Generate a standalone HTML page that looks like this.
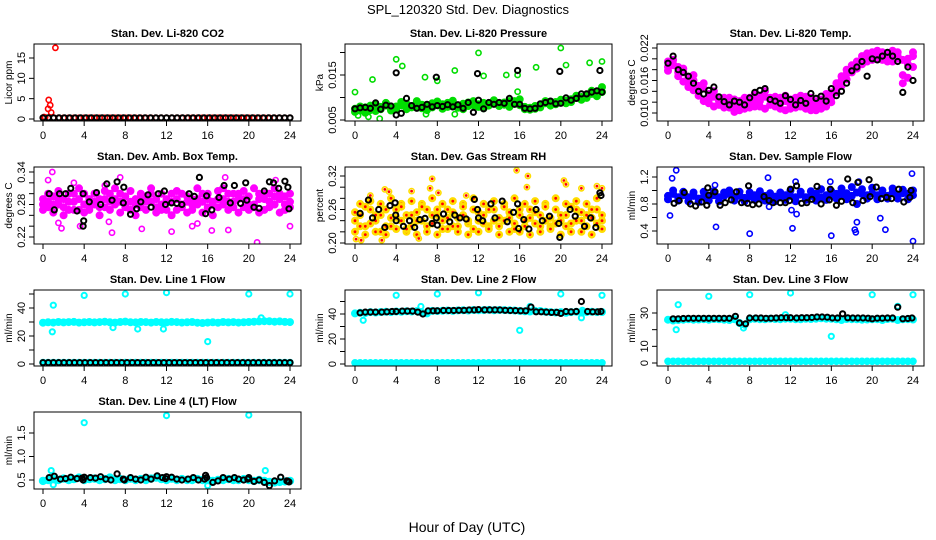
<!DOCTYPE html>
<html><head><meta charset="utf-8"><style>
body{margin:0;background:#fff;width:936px;height:540px;overflow:hidden}
svg{display:block;font-family:"Liberation Sans",Arial,sans-serif}
</style></head><body>
<svg id="chart" width="936" height="540" viewBox="0 0 936 540">
<text x="468" y="14" text-anchor="middle" font-size="13">SPL_120320  Std. Dev. Diagnostics</text>
<text x="467" y="532" text-anchor="middle" font-size="14">Hour of Day (UTC)</text>
</svg>
<script>
// ---- data (each array spread evenly over 0..24 h) ----
const xTicks=[0,4,8,12,16,20,24];
// P1 CO2
const co2Red=[0.3,0.3,0.3,0.3,0.3,0.3,0.3,0.3,0.3,0.3,0.3,0.3,0.3,0.3,0.3,0.3,0.3,0.3,0.3,0.3,0.3,0.3,0.3,0.3,0.3,0.3,0.3,0.3,0.3,0.3,0.3,0.3,0.3,0.3,0.3,0.3,0.3,0.3,0.3,0.3,0.3,0.3,0.3,0.3,0.3,0.3,0.3,0.3,0.3];
const co2OutHours=[0.1,0.2,0.5,0.55,0.7,0.8,1.2];
const co2OutVals=[0.5,0.4,2.5,4.7,3.4,1.6,17.5];
const co2Black=[0.3,0.3,0.3,0.3,0.3,0.3,0.3,0.3,0.3,0.3,0.3,0.3,0.3,0.3,0.3,0.3,0.3,0.3,0.3,0.3,0.3,0.3,0.3,0.3,0.3,0.3,0.3,0.3,0.3,0.3,0.3,0.3,0.3,0.3,0.3,0.3,0.3,0.3,0.3,0.3,0.3,0.3,0.3,0.3,0.3,0.3,0.3];
// P2 Pressure
const presGreenA=[0.0075,0.008,0.0078,0.0072,0.0085,0.0079,0.0082,0.0076,0.008,0.0083,0.0086,0.0081,0.0079,0.0084,0.0082,0.0087,0.0083,0.0085,0.0088,0.0084,0.0081,0.0086,0.0089,0.0083,0.0085,0.0088,0.0086,0.009,0.0087,0.0089,0.0092,0.0086,0.0083,0.0079,0.0077,0.0081,0.0084,0.0087,0.0088,0.009,0.0089,0.0093,0.0096,0.0099,0.0101,0.0104,0.0108,0.011,0.0112];
const presGreenB=[0.0068,0.0071,0.0066,0.0082,0.007,0.0074,0.0088,0.0071,0.0075,0.009,0.0074,0.0078,0.0092,0.0076,0.0072,0.0078,0.0091,0.0075,0.0079,0.0093,0.0077,0.0074,0.0081,0.0092,0.0079,0.0076,0.0082,0.0094,0.0081,0.0084,0.0079,0.0092,0.0096,0.0074,0.0073,0.0075,0.0078,0.0092,0.0082,0.0085,0.0095,0.0087,0.009,0.0104,0.0095,0.0099,0.0115,0.0103,0.0123];
const presOutHours=[0,1.7,4,4.6,6.8,8,9.7,12,12.5,14.7,15.8,17.6,20,20.5,22.8,24,0.3,1.3,2.4,6.9,9.7,15.8];
const presOutVals=[0.0112,0.014,0.0185,0.017,0.0145,0.0137,0.016,0.0199,0.0148,0.015,0.015,0.0167,0.021,0.0172,0.0177,0.018,0.006,0.0057,0.0053,0.0063,0.0063,0.0113];
const presBlack=[0.0075,0.0077,0.0078,0.0076,0.0088,0.0074,0.0083,0.0081,0.0061,0.0065,0.0098,0.0082,0.0076,0.0078,0.0085,0.0079,0.0082,0.008,0.0084,0.0079,0.0084,0.0076,0.0089,0.0067,0.0094,0.0075,0.0089,0.0085,0.0089,0.0087,0.0098,0.0085,0.0085,0.0076,0.0075,0.0076,0.0086,0.0089,0.0092,0.0086,0.0087,0.0099,0.0094,0.0098,0.0108,0.0108,0.0112,0.0115,0.0112];
const presBlackOutHours=[4,7.9,11.9,15.8,19.9,23.8];
const presBlackOutVals=[0.0155,0.0145,0.0153,0.016,0.0158,0.016];
// P3 Temp
const tempMagA=[0.0195,0.019,0.0185,0.0175,0.0165,0.016,0.015,0.0145,0.0135,0.013,0.0125,0.0118,0.012,0.0112,0.0115,0.0118,0.012,0.0125,0.0122,0.013,0.0125,0.012,0.0118,0.0122,0.0115,0.0118,0.0122,0.012,0.0115,0.0112,0.0118,0.0125,0.0128,0.0145,0.016,0.0172,0.0182,0.019,0.0198,0.02,0.0205,0.0208,0.0205,0.0202,0.0208,0.0205,0.0198,0.019,0.0205];
const tempMagB=[0.0185,0.0198,0.0175,0.0182,0.0155,0.017,0.014,0.0155,0.0125,0.014,0.0115,0.0128,0.011,0.0125,0.0105,0.0128,0.011,0.0135,0.0112,0.014,0.0115,0.013,0.0108,0.0132,0.0108,0.0128,0.0112,0.013,0.0105,0.0122,0.0108,0.0135,0.012,0.0155,0.015,0.018,0.0175,0.0195,0.019,0.021,0.0198,0.0215,0.0198,0.021,0.0195,0.0212,0.017,0.02,0.0185];
const tempMagC=[0.0178,0.0188,0.0168,0.0158,0.0148,0.0142,0.0132,0.0122,0.0118,0.0112,0.0122,0.011,0.0128,0.0102,0.0122,0.0108,0.0128,0.0112,0.0132,0.0108,0.0128,0.0112,0.0128,0.0105,0.0125,0.011,0.0132,0.0108,0.0128,0.0105,0.0125,0.0112,0.0138,0.0138,0.0168,0.0162,0.0188,0.0182,0.0205,0.0195,0.0212,0.02,0.0212,0.0195,0.0215,0.02,0.0155,0.0165,0.0212];
const tempBlack=[0.0192,0.0205,0.018,0.0175,0.0168,0.0155,0.014,0.0135,0.0142,0.0148,0.013,0.0121,0.0115,0.0122,0.012,0.0115,0.0128,0.0138,0.0142,0.0145,0.0125,0.0122,0.0118,0.0132,0.0125,0.0115,0.0123,0.0118,0.0136,0.0127,0.0131,0.0122,0.0145,0.0132,0.014,0.0155,0.0178,0.0185,0.0195,0.0168,0.02,0.0198,0.0205,0.0212,0.0205,0.0195,0.0138,0.0185,0.016];
// P4 Amb box temp
const ambMagA=[0.29,0.285,0.28,0.29,0.275,0.285,0.3,0.27,0.28,0.29,0.285,0.275,0.29,0.3,0.28,0.285,0.295,0.27,0.28,0.29,0.285,0.3,0.275,0.28,0.29,0.285,0.27,0.28,0.295,0.29,0.28,0.3,0.275,0.285,0.29,0.28,0.3,0.285,0.29,0.275,0.295,0.28,0.29,0.3,0.285,0.28,0.29,0.295,0.285];
const ambMagB=[0.27,0.3,0.265,0.305,0.26,0.3,0.27,0.31,0.265,0.275,0.3,0.26,0.305,0.27,0.31,0.265,0.28,0.305,0.26,0.3,0.27,0.31,0.265,0.3,0.27,0.26,0.305,0.3,0.265,0.27,0.31,0.265,0.3,0.26,0.305,0.31,0.27,0.3,0.265,0.305,0.27,0.31,0.265,0.27,0.3,0.31,0.265,0.27,0.3];
const ambMagC=[0.28,0.275,0.295,0.28,0.29,0.27,0.285,0.29,0.3,0.27,0.28,0.29,0.275,0.285,0.29,0.3,0.275,0.285,0.29,0.275,0.295,0.285,0.29,0.27,0.285,0.3,0.29,0.275,0.285,0.28,0.29,0.285,0.29,0.28,0.275,0.29,0.285,0.275,0.3,0.29,0.28,0.275,0.3,0.29,0.275,0.295,0.3,0.28,0.275];
const ambOutHours=[0.5,0.9,1.5,1.8,3,3.6,6,6.4,6.7,7.5,9.6,12.5,14.5,15,16.4,17.7,18,20.8,22.6,24];
const ambOutVals=[0.325,0.34,0.246,0.236,0.32,0.24,0.315,0.248,0.228,0.33,0.235,0.23,0.24,0.245,0.232,0.33,0.233,0.21,0.325,0.24];
const ambBlackHours=[0.6,1.1,1.6,2.2,2.7,3.3,3.9,3.9,3.95,4.5,5.2,5.6,6.2,6.7,7.2,7.8,7.85,8.5,9.1,9.5,10.2,10.5,11.2,11.8,11.9,12.5,13,13.5,14.2,14.7,15.2,15.8,15.9,16.4,17.1,17.6,18.2,18.6,19.2,19.7,19.8,20.5,21,21.5,22,22.4,22.9,23.5,23.8,23.9];
const ambBlackVals=[0.3,0.27,0.3,0.3,0.31,0.268,0.3,0.24,0.25,0.285,0.302,0.28,0.318,0.288,0.322,0.283,0.312,0.262,0.272,0.285,0.298,0.275,0.3,0.305,0.28,0.283,0.282,0.28,0.3,0.295,0.33,0.263,0.296,0.27,0.293,0.315,0.283,0.315,0.282,0.32,0.288,0.275,0.273,0.305,0.322,0.32,0.31,0.323,0.312,0.272];
// P5 Gas stream RH
const rhA=[0.24,0.25,0.23,0.26,0.24,0.25,0.23,0.245,0.26,0.24,0.25,0.23,0.255,0.24,0.26,0.235,0.25,0.24,0.26,0.23,0.245,0.25,0.235,0.26,0.24,0.25,0.23,0.26,0.245,0.24,0.255,0.235,0.25,0.24,0.26,0.235,0.25,0.24,0.23,0.26,0.24,0.25,0.235,0.26,0.24,0.25,0.245,0.26,0.24];
const rhB=[0.22,0.27,0.215,0.275,0.22,0.27,0.215,0.28,0.225,0.27,0.22,0.275,0.215,0.27,0.22,0.28,0.215,0.27,0.225,0.275,0.22,0.27,0.215,0.28,0.22,0.27,0.225,0.275,0.215,0.27,0.22,0.28,0.22,0.27,0.215,0.275,0.22,0.27,0.225,0.28,0.215,0.27,0.22,0.275,0.22,0.27,0.215,0.28,0.225];
const rhC=[0.255,0.23,0.265,0.235,0.25,0.22,0.26,0.23,0.245,0.265,0.225,0.25,0.24,0.265,0.23,0.25,0.26,0.225,0.245,0.255,0.23,0.265,0.24,0.225,0.255,0.235,0.26,0.24,0.23,0.265,0.245,0.225,0.26,0.23,0.245,0.255,0.23,0.265,0.245,0.235,0.25,0.23,0.265,0.24,0.255,0.23,0.26,0.235,0.25];
const rhOutHours=[0.1,0.6,1.5,2.6,3.3,5.5,6.2,7.3,7.5,10.8,15.7,16.8,16.7,20.3,20.5,22,23.5,24,2.9,8.1];
const rhOutVals=[0.207,0.205,0.285,0.205,0.292,0.293,0.208,0.298,0.315,0.285,0.33,0.32,0.3,0.312,0.305,0.298,0.302,0.298,0.296,0.29];
const rhBlackHours=[0.5,1.3,1.7,2.3,2.9,3.4,3.9,3.95,4.0,4.7,5.3,5.8,6.3,6.8,7.5,7.9,8.0,8.6,9.2,9.7,10.2,10.8,11.6,11.9,12.0,12.4,13.2,13.6,14.3,14.8,15.4,15.8,15.9,16.4,16.9,17.6,18.2,18.9,19.8,19.9,20.9,21.4,22.3,22.9,23.4,23.8,23.9];
const rhBlackVals=[0.253,0.277,0.245,0.26,0.228,0.267,0.272,0.25,0.24,0.23,0.24,0.228,0.242,0.244,0.235,0.245,0.232,0.252,0.238,0.25,0.245,0.243,0.278,0.26,0.245,0.24,0.27,0.245,0.275,0.238,0.255,0.27,0.226,0.242,0.225,0.26,0.24,0.248,0.235,0.21,0.26,0.248,0.23,0.245,0.228,0.29,0.285];
// P6 Sample flow
const sfA=[0.92,0.95,0.9,0.93,0.9,0.92,0.88,0.91,0.9,0.93,0.9,0.92,0.95,0.9,0.92,0.89,0.91,0.93,0.9,0.92,0.88,0.91,0.9,0.93,0.92,0.9,0.94,0.9,0.92,0.95,0.9,0.93,0.92,0.95,0.93,0.96,0.92,0.97,0.95,0.93,0.96,0.93,0.95,0.92,0.97,0.94,0.96,0.95,0.93];
const sfB=[0.87,1.0,0.85,0.98,0.84,0.97,0.83,0.98,0.85,0.99,0.84,0.97,1.0,0.85,0.98,0.84,0.97,0.86,0.99,0.85,0.96,0.84,0.97,0.86,1.0,0.84,0.98,0.86,0.99,0.85,1.02,0.86,0.99,0.88,1.03,0.87,1.05,0.8,1.02,0.88,1.04,0.87,1.0,0.88,1.03,0.88,1.01,0.87,1.0];
const sfOutHours=[0.2,0.4,0.8,4.6,4.7,7.9,8.0,9.8,9.9,12.2,12.5,12.6,15.9,16.0,18.3,18.4,18.5,18.7,20.8,21.3,23.9,24.0,12.1];
const sfOutVals=[0.63,1.18,1.3,1.08,0.46,1.07,0.36,1.19,0.76,0.44,1.13,0.65,1.13,0.33,0.42,0.38,0.53,1.13,0.59,0.42,1.25,0.25,0.71];
const sfBlackHours=[0.6,1.1,1.6,2.2,2.7,3.3,3.8,3.9,4.0,4.6,5.1,5.6,6.2,6.7,7.2,7.8,7.9,8.3,8.9,9.4,9.9,10.3,11.0,11.5,11.9,12.0,12.6,13.1,13.6,14.1,14.6,15.0,15.8,15.9,16.5,17.0,17.6,18.1,18.6,19.1,19.7,19.8,20.4,20.9,21.4,21.9,22.6,23.1,23.7,23.8];
const sfBlackVals=[0.81,0.85,0.97,0.8,0.77,0.83,0.78,1.04,0.93,0.98,0.78,0.82,0.86,0.98,0.82,0.81,1.07,0.79,0.8,0.91,0.85,0.82,0.82,0.82,0.85,1.02,1.07,0.81,0.82,0.87,1.06,0.8,0.86,1.02,0.78,0.84,1.17,0.82,1.12,0.85,1.16,0.91,1.05,0.88,0.9,0.88,1.02,0.83,0.9,1.0];
// P7 Line 1
const l1Cyan=[29.5,29.8,29.6,30,29.7,29.9,30.1,29.6,29.8,30,29.7,29.9,30.2,29.8,29.6,30,30.3,29.8,29.7,30,29.9,29.6,30,29.8,29.7,30.1,29.9,29.6,29.8,30,29.5,29.3,29.6,29.8,29.5,30,29.7,29.9,29.6,29.8,30,30.2,30.4,30.6,30.5,30.2,30.4,30.1,29.9];
const l1Low=[1,1,1,1,1,1,1,1,1,1,1,1,1,1,1,1,1,1,1,1,1,1,1,1,1,1,1,1,1,1,1,1,1,1,1,1,1,1,1,1,1,1,1,1,1,1,1,1,1];
const l1OutHours=[0.9,1.0,4,6.8,8,9.2,11.7,12,16,20,21.2,24];
const l1OutVals=[23,42,49,26,50,25,25,51,16,50,33,50];
const l1Black=[1,1,1,1,1,1,1,1,1,1,1,1,1,1,1,1,1,1,1,1,1,1,1,1,1,1,1,1,1,1,1,1,1,1,1,1,1,1,1,1,1,1,1,1,1,1,1,1];
// P8 Line 2
const l2Cyan=[40.5,41,40.8,41.5,41.2,41.6,41.8,41.5,42,41.8,42.2,42,42.3,41,40.5,42.5,42.4,42.6,42.8,42.5,42.9,43,42.8,43.2,43,43.1,43.3,43,43.2,43.1,43,42.8,42.5,42.2,42,42.5,42.4,41.8,41.5,41.2,41.5,41,41.5,41.8,41.2,41.5,41.8,41.5,41.6];
const l2Low=[1,1,1,1,1,1,1,1,1,1,1,1,1,1,1,1,1,1,1,1,1,1,1,1,1,1,1,1,1,1,1,1,1,1,1,1,1,1,1,1,1,1,1,1,1,1,1,1,1];
const l2OutHours=[0.8,4,6.4,8,12,16,17,20,22,22.1,24];
const l2OutVals=[35,55,46,56,57,27,46,56,37,43,55];
const l2BlackHours=[0.5,1.0,1.5,2.0,2.6,3.1,3.6,4.0,4.6,5.1,5.6,6.1,6.6,7.1,7.6,8.0,8.6,9.1,9.6,10.1,10.6,11.1,11.6,12.0,12.6,13.1,13.6,14.1,14.6,15.1,15.6,16.1,16.6,17.1,17.6,18.1,18.6,19.1,19.6,20.0,20.5,21.0,21.5,22.0,22.6,23.1,23.6,23.9];
const l2BlackVals=[41,41.5,41.5,41.5,41.5,41.8,42,42,42.3,42.3,42.3,41.5,40,42.5,42.6,42.6,42.8,42.8,42.8,43,43,43.2,43.2,43.5,43.3,43.3,43.3,43.2,43,42.8,42.7,42.6,42.6,45.5,41.8,41.8,41.5,41.3,41.3,40.5,42,41.7,42,50,42,41.8,41.8,42];
// P9 Line 3
const l3Cyan=[26,25.5,25.8,26,26.2,26,26.1,26.3,26,26.4,26.2,26,25.8,26.3,24,23,26.2,26.5,26.3,26.2,26.5,26.4,26.3,26.6,26.5,26.3,26.2,26.5,26.4,26.6,26.8,26.6,26.5,26.2,25.8,26.4,26.3,26.2,26,26.1,26.2,26.3,25.8,26.4,26.5,25.8,26.2,26.3,26.1];
const l3Low=[1,1,1,1,1,1,1,1,1,1,1,1,1,1,1,1,1,1,1,1,1,1,1,1,1,1,1,1,1,1,1,1,1,1,1,1,1,1,1,1,1,1,1,1,1,1,1,1,1];
const l3OutHours=[0.8,1.0,4,7.4,8,11.5,12,16,20,22.5,24];
const l3OutVals=[20,35,40,21,41,29,42,16,41,34,41];
const l3BlackHours=[0.5,1.0,1.5,2.0,2.5,3.0,3.5,4.0,4.5,5.0,5.5,6.0,6.6,7.0,7.6,8.0,8.6,9.1,9.6,10.1,10.6,11.1,11.6,12.0,12.6,13.1,13.6,14.1,14.6,15.1,15.6,16.1,16.6,17.1,17.6,18.1,18.6,19.1,19.6,20.0,20.5,21.0,21.5,22.0,22.5,23.0,23.5,23.9];
const l3BlackVals=[26.5,26.5,26.7,26.8,26.8,26.8,26.8,26.8,26.8,26.8,26.8,26.8,28,24,23.5,27,27,27,26.8,26.9,27,27.2,27.2,27.2,27,27.2,27.2,27.3,27.6,27.6,27.5,27,27,29.5,27.1,27,27,27,26.9,26.5,26.9,26.9,27,27,33.5,26.5,26.7,27];
// P10 Line 4
const l4Cyan=[0.48,0.5,0.52,0.5,0.53,0.5,0.52,0.55,0.5,0.52,0.53,0.5,0.52,0.55,0.5,0.52,0.5,0.53,0.5,0.52,0.5,0.53,0.55,0.52,0.5,0.53,0.5,0.52,0.5,0.5,0.52,0.5,0.5,0.48,0.5,0.5,0.52,0.5,0.5,0.52,0.5,0.48,0.5,0.48,0.46,0.45,0.46,0.47,0.48];
const l4OutHours=[0.8,1.0,4,12,16,20,21.6];
const l4OutVals=[0.7,0.4,1.72,1.87,0.38,1.88,0.7];
const l4BlackHours=[0.6,1.1,1.7,2.2,2.7,3.3,3.8,3.9,4.0,4.6,5.1,5.6,6.1,6.6,7.2,7.8,7.9,8.5,9.0,9.5,10.0,10.5,11.1,11.6,11.9,12.0,12.5,13.0,13.5,14.1,14.6,15.1,15.7,15.8,15.9,16.5,17.0,17.5,18.1,18.6,19.0,19.5,19.9,20.0,20.5,21.0,21.5,22.0,22.5,23.1,23.7,23.8,23.9];
const l4BlackVals=[0.55,0.58,0.52,0.53,0.56,0.53,0.54,0.5,0.56,0.55,0.54,0.57,0.52,0.5,0.63,0.52,0.5,0.55,0.52,0.5,0.56,0.52,0.59,0.55,0.53,0.57,0.56,0.52,0.5,0.52,0.55,0.5,0.52,0.6,0.55,0.45,0.48,0.55,0.52,0.55,0.52,0.5,0.52,0.55,0.47,0.5,0.45,0.38,0.48,0.56,0.48,0.47,0.46];

// ---- layout ----
const colL=[34,345,657], colR=[301,612,924], colX0=[43,355,668], colX24=[290,602,913];
const rowT=[44,167,290,412], rowB=[121,244,366,489];
const NS='http://www.w3.org/2000/svg';
const svg=document.getElementById('chart');
function mk(tag,attrs,parent){const e=document.createElementNS(NS,tag);for(const k in attrs)e.setAttribute(k,attrs[k]);(parent||svg).appendChild(e);return e;}
function evenHours(arr){return arr.map((v,i)=>i*24/(arr.length-1));}

function panel(id,title,col,row,yTitle,ref,ticks,labels,series){
  const g=mk('g',{});
  
  
  const L=colL[col],R=colR[col],T=rowT[row],B=rowB[row];
  const xs=h=>colX0[col]+(colX24[col]-colX0[col])*h/24;
  const ys=v=>ref[1]+(ref[3]-ref[1])*(v-ref[0])/(ref[2]-ref[0]);
  const t=mk('text',{x:(L+R)/2,y:T-7,'text-anchor':'middle','font-size':11,'font-weight':'bold'},g);
  t.textContent=title;
  
  
  const yt=mk('text',{transform:`translate(${L-22},${(T+B)/2}) rotate(-90)`,'text-anchor':'middle','font-size':10},g);
  yt.textContent=yTitle;
  
  
  const clip='c'+id;
  const cp=mk('clipPath',{id:clip},g);mk('rect',{x:L,y:T,width:R-L,height:B-T},cp);
  const sg=mk('g',{'clip-path':`url(#${clip})`},g);
  series.forEach(s=>{
    const hs=s.h||evenHours(s.v);
    s.v.forEach((v,i)=>{
      const c=mk('circle',{cx:xs(hs[i]).toFixed(1),cy:ys(v).toFixed(1),r:s.r||2.6,fill:s.f?s.c:'none',stroke:s.c,'stroke-width':s.w||1.6},sg);
      
      
      if(s.dot){const d=mk('circle',{cx:xs(hs[i]).toFixed(1),cy:ys(v).toFixed(1),r:1.4,fill:s.dot},sg);
        
        }
    });
  });
  const bx=mk('rect',{x:L,y:T,width:R-L,height:B-T,fill:'none',stroke:'#000','stroke-width':1},g);
  
  
  xTicks.forEach(h=>{
    mk('line',{x1:xs(h),x2:xs(h),y1:B,y2:B+5,stroke:'#000'},g);
    const l=mk('text',{x:xs(h),y:B+18,'text-anchor':'middle','font-size':11},g);
    l.textContent=h;
    
    
  });
  ticks.forEach(v=>{mk('line',{x1:L-5,x2:L,y1:ys(v),y2:ys(v),stroke:'#000'},g);});
  labels.forEach(v=>{
    const l=mk('text',{transform:`translate(${L-9},${ys(v)}) rotate(-90)`,'text-anchor':'middle','font-size':11},g);
    l.textContent=v;
    
    
  });
}
const RED='#f00',GRN='#0d0',MAG='#f0f',BLU='#00f',CY='#0ff',BK='#000',YEL='#fd0';
panel('co2','Stan. Dev. Li-820 CO2',0,0,'Licor ppm',[0,119,15,58],[0,5,10,15],['0','5','10','15'],[
 {v:co2Red,c:RED,n:'co2-red-point'},{h:co2OutHours,v:co2OutVals,c:RED,n:'co2-red-outlier'},{v:co2Black,c:BK,w:2,n:'co2-black-point'}]);
panel('pressure','Stan. Dev. Li-820 Pressure',1,0,'kPa',[0.005,120,0.015,75],[0.005,0.01,0.015,0.02],['0.005','0.015'],[
 {v:presGreenA,c:GRN,f:1,r:3.2,n:'pressure-green-point'},{v:presGreenB,c:GRN,f:1,r:3.2,n:'pressure-green-point'},{h:presOutHours,v:presOutVals,c:GRN,n:'pressure-green-outlier'},
 {v:presBlack,c:BK,w:2,n:'pressure-black-point'},{h:presBlackOutHours,v:presBlackOutVals,c:BK,w:2,n:'pressure-black-outlier'}]);
panel('temp','Stan. Dev. Li-820 Temp.',2,0,'degrees C',[0.010,113,0.022,48],[0.010,0.012,0.014,0.016,0.018,0.020,0.022],['0.010','0.016','0.022'],[
 {v:tempMagA,c:MAG,f:1,r:3.2,n:'temp-magenta-point'},{v:tempMagB,c:MAG,f:1,r:3.2,n:'temp-magenta-point'},{v:tempMagC,c:MAG,f:1,r:3.2,n:'temp-magenta-point'},{v:tempBlack,c:BK,w:2,n:'temp-black-point'}]);
panel('ambbox','Stan. Dev. Amb. Box Temp.',0,1,'degrees C',[0.22,237,0.34,172],[0.22,0.24,0.26,0.28,0.30,0.32,0.34],['0.22','0.28','0.34'],[
 {v:ambMagA,c:MAG,f:1,r:3.2,n:'ambbox-magenta-point'},{v:ambMagB,c:MAG,f:1,r:3.2,n:'ambbox-magenta-point'},{v:ambMagC,c:MAG,f:1,r:3.2,n:'ambbox-magenta-point'},{h:ambOutHours,v:ambOutVals,c:MAG,n:'ambbox-magenta-outlier'},
 {h:ambBlackHours,v:ambBlackVals,c:BK,w:2,n:'ambbox-black-point'}]);
panel('rh','Stan. Dev. Gas Stream RH',1,1,'percent',[0.20,243,0.32,176],[0.20,0.22,0.24,0.26,0.28,0.30,0.32],['0.20','0.26','0.32'],[
 {v:rhA,c:YEL,f:1,r:3.2,dot:RED,n:'rh-orange-point'},{v:rhB,c:YEL,f:1,r:3.2,dot:RED,n:'rh-orange-point'},{v:rhC,c:YEL,f:1,r:3.2,dot:RED,n:'rh-orange-point'},{h:rhOutHours,v:rhOutVals,c:YEL,dot:RED,n:'rh-orange-outlier'},
 {h:rhBlackHours,v:rhBlackVals,c:BK,w:2,n:'rh-black-point'}]);
panel('sampleflow','Stan. Dev. Sample Flow',2,1,'ml/min',[0.4,231,1.2,177],[0.4,0.6,0.8,1.0,1.2],['0.4','0.8','1.2'],[
 {v:sfA,c:BLU,f:1,r:3.2,n:'sampleflow-blue-point'},{v:sfB,c:BLU,f:1,r:3.2,n:'sampleflow-blue-point'},{h:sfOutHours,v:sfOutVals,c:BLU,n:'sampleflow-blue-outlier'},
 {h:sfBlackHours,v:sfBlackVals,c:BK,w:2,n:'sampleflow-black-point'}]);
panel('line1','Stan. Dev. Line 1 Flow',0,2,'ml/min',[0,364,40,308],[0,10,20,30,40,50],['0','20','40'],[
 {v:l1Cyan,c:CY,f:1,r:3.2,n:'line1-cyan-point'},{v:l1Low,c:CY,f:1,r:3,n:'line1-cyan-low-point'},{h:l1OutHours,v:l1OutVals,c:CY,w:2,n:'line1-cyan-outlier'},{v:l1Black,c:BK,w:2,n:'line1-black-point'}]);
panel('line2','Stan. Dev. Line 2 Flow',1,2,'ml/min',[0,364,40,314],[0,10,20,30,40,50],['0','20','40'],[
 {v:l2Cyan,c:CY,f:1,r:3.2,n:'line2-cyan-point'},{v:l2Low,c:CY,f:1,r:3,n:'line2-cyan-low-point'},{h:l2OutHours,v:l2OutVals,c:CY,w:2,n:'line2-cyan-outlier'},{h:l2BlackHours,v:l2BlackVals,c:BK,w:2,n:'line2-black-point'}]);
panel('line3','Stan. Dev. Line 3 Flow',2,2,'ml/min',[0,363,30,313],[0,10,20,30],['0','10','30'],[
 {v:l3Cyan,c:CY,f:1,r:3.2,n:'line3-cyan-point'},{v:l3Low,c:CY,f:1,r:3,n:'line3-cyan-low-point'},{h:l3OutHours,v:l3OutVals,c:CY,w:2,n:'line3-cyan-outlier'},{h:l3BlackHours,v:l3BlackVals,c:BK,w:2,n:'line3-black-point'}]);
panel('line4','Stan. Dev. Line 4 (LT) Flow',0,3,'ml/min',[0.5,480,1.5,433],[0.5,1.0,1.5],['0.5','1.0','1.5'],[
 {v:l4Cyan,c:CY,f:1,r:3.4,n:'line4-cyan-point'},{h:l4OutHours,v:l4OutVals,c:CY,w:2,n:'line4-cyan-outlier'},{h:l4BlackHours,v:l4BlackVals,c:BK,w:2,n:'line4-black-point'}]);
</script>
</body></html>
